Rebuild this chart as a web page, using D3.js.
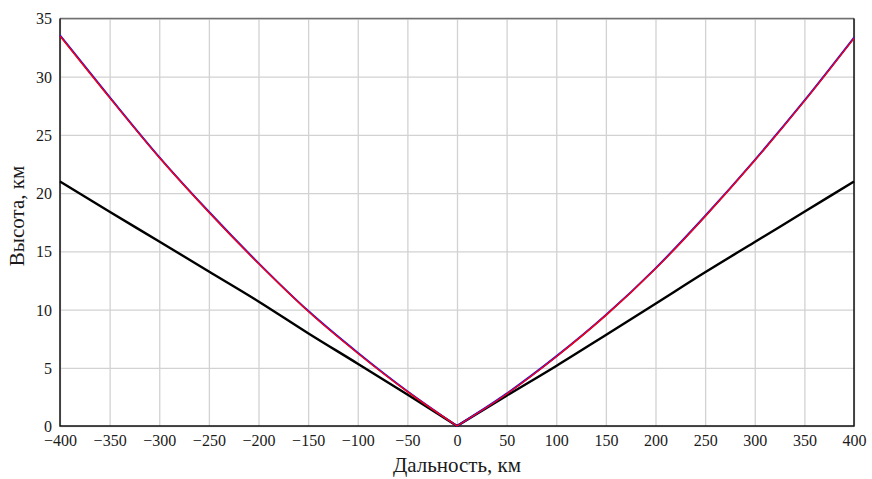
<!DOCTYPE html>
<html>
<head>
<meta charset="utf-8">
<script src="https://cdn.jsdelivr.net/npm/d3@7"></script>
<style>
  body { margin: 0; background: #fff; }
  svg { display: block; }
  text { font-family: "Liberation Serif", "Times New Roman", serif; fill: #1a1a1a; }
</style>
</head>
<body>
<svg id="chart" width="872" height="479"></svg>
<script>
// range, km
const distance = [-400, -350, -300, -250, -200, -150, -100, -50, 0, 50, 100, 150, 200, 250, 300, 350, 400];
// heights, km
const heightBlack = [21.0, 18.4, 15.85, 13.27, 10.7, 7.97, 5.35, 2.7, 0, 2.6, 5.16, 7.82, 10.5, 13.2, 15.8, 18.4, 21.0];
const heightBlue = [33.55, 28.25, 23.1, 18.4, 13.99, 9.89, 6.29, 2.98, 0, 2.78, 5.98, 9.53, 13.54, 18.04, 22.84, 27.94, 33.35];
const heightRed = [33.5, 28.2, 23.06, 18.36, 13.95, 9.85, 6.25, 2.95, 0, 2.75, 5.95, 9.5, 13.5, 18.0, 22.8, 27.9, 33.3];
const xTicks = [-400, -350, -300, -250, -200, -150, -100, -50, 0, 50, 100, 150, 200, 250, 300, 350, 400];
const yTicks = [0, 5, 10, 15, 20, 25, 30, 35];

const margin = { left: 60, right: 18, top: 18.5, bottom: 53 };
const W = 872, H = 479;
const svg = d3.select('#chart');
const x = d3.scaleLinear().domain([-400, 400]).range([margin.left, W - margin.right]);
const y = d3.scaleLinear().domain([0, 35]).range([H - margin.bottom, margin.top]);

// grid
svg.append('g')
  .attr('transform', `translate(0,${y(0)})`)
  .call(d3.axisBottom(x).tickValues(xTicks).tickSize(-(y(0) - y(35))).tickFormat(''))
  .call(g => g.select('.domain').remove())
  .call(g => g.selectAll('line').attr('stroke', '#d2d2d2').attr('stroke-width', 1.3));
svg.append('g')
  .attr('transform', `translate(${x(-400)},0)`)
  .call(d3.axisLeft(y).tickValues(yTicks).tickSize(-(x(400) - x(-400))).tickFormat(''))
  .call(g => g.select('.domain').remove())
  .call(g => g.selectAll('line').attr('stroke', '#d2d2d2').attr('stroke-width', 1.3));

// frame
svg.append('line').attr('x1', x(-400)).attr('x2', x(400)).attr('y1', y(35)).attr('y2', y(35))
  .attr('stroke', '#707070').attr('stroke-width', 1.5);
svg.append('path')
  .attr('d', `M${x(-400)},${y(35)}V${y(0)}H${x(400)}V${y(35)}`)
  .attr('fill', 'none').attr('stroke', '#111').attr('stroke-width', 1.5);

// tick labels
svg.append('g')
  .attr('transform', `translate(0,${y(0)})`)
  .call(d3.axisBottom(x).tickValues(xTicks).tickSize(0).tickPadding(8))
  .call(g => g.select('.domain').remove())
  .call(g => g.selectAll('text').attr('font-size', 16).attr('dy', '0.72em')
    .style('font-family', '"Liberation Serif", serif').attr('fill', '#1a1a1a'));
svg.append('g')
  .attr('transform', `translate(${x(-400)},0)`)
  .call(d3.axisLeft(y).tickValues(yTicks).tickSize(0).tickPadding(8))
  .call(g => g.select('.domain').remove())
  .call(g => g.selectAll('text').attr('font-size', 16).attr('dy', '0.34em')
    .style('font-family', '"Liberation Serif", serif').attr('fill', '#1a1a1a'));

// curves: each side drawn on its own so the vertex at 0 stays sharp
const line = d3.line().x(d => x(d[0])).y(d => y(d[1])).curve(d3.curveMonotoneX);
const halves = h => {
  const pts = distance.map((d, i) => [d, h[i]]);
  const mid = distance.indexOf(0);
  return [pts.slice(0, mid + 1), pts.slice(mid)];
};
const series = [
  { h: heightBlack, color: '#000', w: 2.4 },
  { h: heightBlue, color: '#1010ff', w: 2 },
  { h: heightRed, color: '#ff0000', w: 1.4 }
];
series.forEach(s => {
  svg.append('g').selectAll('path').data(halves(s.h)).join('path')
    .attr('d', line)
    .attr('fill', 'none').attr('stroke', s.color).attr('stroke-width', s.w)
    .attr('stroke-linejoin', 'round');
});

// axis titles
svg.append('text')
  .attr('x', x(0)).attr('y', 472)
  .attr('text-anchor', 'middle').attr('font-size', 21)
  .text('Дальность, км');
svg.append('text')
  .attr('transform', `translate(24,216) rotate(-90)`)
  .attr('text-anchor', 'middle').attr('font-size', 21)
  .text('Высота, км');
</script>
</body>
</html>
